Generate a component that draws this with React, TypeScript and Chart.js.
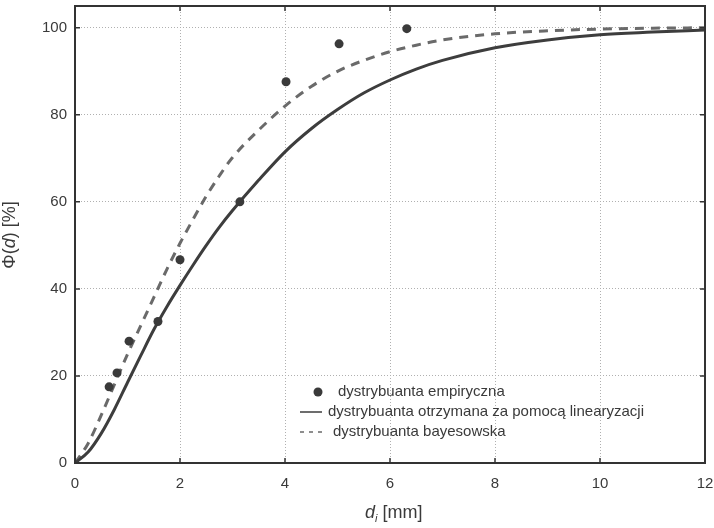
import React, { useEffect, useRef } from "react";
import { Chart, registerables } from "chart.js";

Chart.register(...registerables);

// ---- data ----
const xTickValues = [0, 2, 4, 6, 8, 10, 12];
const yTickValues = [0, 20, 40, 60, 80, 100];

const empiricalX = [0.65, 0.8, 1.03, 1.58, 2.0, 3.14, 4.02, 5.03, 6.32];
const empiricalY = [17.5, 20.7, 28.0, 32.5, 46.7, 60.0, 87.6, 96.3, 99.8];

const curveX = [0, 0.25, 0.5, 0.75, 1, 1.25, 1.5, 1.75, 2, 2.25, 2.5, 2.75, 3, 3.5, 4, 4.5, 5, 5.5, 6, 6.5, 7, 8, 9, 10, 11, 12];
const linearizedY = [0, 2.5, 6.8, 12.3, 18.5, 24.6, 30.6, 35.9, 40.8, 45.5, 50, 54.2, 58, 65, 71.5, 76.8, 81.2, 85, 88, 90.5, 92.5, 95.4, 97.2, 98.4, 99, 99.5];
const bayesY = [0, 4.5, 11, 18, 25, 31.5, 38, 44.5, 50.5, 56, 61.3, 66, 70.2, 76.5, 82, 86.5, 90, 92.5, 94.5, 96, 97.2, 98.6, 99.3, 99.7, 99.9, 100];

const legendLabels = [
  "dystrybuanta empiryczna",
  "dystrybuanta otrzymana za pomocą linearyzacji",
  "dystrybuanta bayesowska",
];

const FONT = "'Liberation Sans', Arial, Helvetica, sans-serif";
const TEXT = "#3a3a3a";

const decorPlugin = {
  id: "decor",
  afterDraw(chart: any) {
    const { ctx, chartArea: a, scales } = chart;
    const xs = scales.x;
    const ys = scales.y;
    ctx.save();
    // frame
    ctx.strokeStyle = "#333";
    ctx.lineWidth = 2;
    ctx.setLineDash([]);
    ctx.strokeRect(a.left, a.top, a.right - a.left, a.bottom - a.top);
    // inward ticks
    ctx.lineWidth = 1.5;
    ctx.beginPath();
    xTickValues.forEach((v) => {
      const px = xs.getPixelForValue(v);
      ctx.moveTo(px, a.bottom);
      ctx.lineTo(px, a.bottom - 5);
      ctx.moveTo(px, a.top);
      ctx.lineTo(px, a.top + 5);
    });
    yTickValues.forEach((v) => {
      const py = ys.getPixelForValue(v);
      ctx.moveTo(a.left, py);
      ctx.lineTo(a.left + 5, py);
      ctx.moveTo(a.right, py);
      ctx.lineTo(a.right - 5, py);
    });
    ctx.stroke();

    // legend
    ctx.fillStyle = TEXT;
    ctx.textBaseline = "middle";
    ctx.textAlign = "left";
    ctx.font = `15px ${FONT}`;
    const rows = [392, 412, 432];
    ctx.beginPath();
    ctx.arc(318, rows[0], 4.5, 0, Math.PI * 2);
    ctx.fillStyle = "#3a3a3a";
    ctx.fill();
    ctx.fillStyle = TEXT;
    ctx.fillText(legendLabels[0], 338, rows[0]);
    ctx.strokeStyle = "#3d3d3d";
    ctx.lineWidth = 1.5;
    ctx.beginPath();
    ctx.moveTo(300, rows[1]);
    ctx.lineTo(322, rows[1]);
    ctx.stroke();
    ctx.fillText(legendLabels[1], 328, rows[1]);
    ctx.setLineDash([4, 5]);
    ctx.strokeStyle = "#6a6a6a";
    ctx.beginPath();
    ctx.moveTo(300, rows[2]);
    ctx.lineTo(323, rows[2]);
    ctx.stroke();
    ctx.setLineDash([]);
    ctx.fillText(legendLabels[2], 333, rows[2]);

    // x axis title: d_i [mm]
    ctx.textBaseline = "alphabetic";
    const baseY = 518;
    let cx = 365;
    ctx.font = `italic 18px ${FONT}`;
    ctx.fillText("d", cx, baseY);
    cx += ctx.measureText("d").width;
    ctx.font = `italic 11px ${FONT}`;
    ctx.fillText("i", cx, baseY + 4);
    cx += ctx.measureText("i").width;
    ctx.font = `18px ${FONT}`;
    ctx.fillText(" [mm]", cx, baseY);

    // y axis title: Φ(d) [%]
    ctx.save();
    ctx.translate(12, 235);
    ctx.rotate(-Math.PI / 2);
    const parts: [string, boolean][] = [["Φ(", false], ["d", true], [") [%]", false]];
    let total = 0;
    parts.forEach(([t, it]) => {
      ctx.font = `${it ? "italic " : ""}18px ${FONT}`;
      total += ctx.measureText(t).width;
    });
    let px = -total / 2;
    parts.forEach(([t, it]) => {
      ctx.font = `${it ? "italic " : ""}18px ${FONT}`;
      ctx.fillText(t, px, 3);
      px += ctx.measureText(t).width;
    });
    ctx.restore();
    ctx.restore();
  },
};

export default function App() {
  const ref = useRef<HTMLCanvasElement | null>(null);
  useEffect(() => {
    if (!ref.current) return;
    const chart = new Chart(ref.current, {
      type: "scatter",
      data: {
        datasets: [
          {
            label: legendLabels[0],
            data: empiricalX.map((x, i) => ({ x, y: empiricalY[i] })),
            backgroundColor: "#3a3a3a",
            borderWidth: 0,
            pointRadius: 4.5,
            showLine: false,
          },
          {
            label: legendLabels[1],
            data: curveX.map((x, i) => ({ x, y: linearizedY[i] })),
            showLine: true,
            borderColor: "#3d3d3d",
            borderWidth: 3,
            pointRadius: 0,
            cubicInterpolationMode: "monotone",
          },
          {
            label: legendLabels[2],
            data: curveX.map((x, i) => ({ x, y: bayesY[i] })),
            showLine: true,
            borderColor: "#6a6a6a",
            borderWidth: 3,
            borderDash: [9, 7],
            pointRadius: 0,
            cubicInterpolationMode: "monotone",
          },
        ],
      },
      options: {
        animation: false,
        responsive: false,
        layout: { padding: { left: 0, right: 9, top: 6, bottom: 0 } },
        plugins: { legend: { display: false }, tooltip: { enabled: false } },
        scales: {
          x: {
            type: "linear",
            min: 0,
            max: 12,
            afterBuildTicks: (s: any) => {
              s.ticks = xTickValues.map((v) => ({ value: v }));
            },
            afterFit: (s: any) => {
              s.height = 65;
              s.paddingLeft = 0;
              s.paddingRight = 0;
            },
            grid: { color: "#b0b0b0", lineWidth: 1, drawTicks: false },
            border: { display: false, dash: [1, 2] },
            ticks: { color: TEXT, font: { size: 15, family: FONT }, padding: 12, maxRotation: 0, autoSkip: false },
          },
          y: {
            type: "linear",
            min: 0,
            max: 105,
            afterBuildTicks: (s: any) => {
              s.ticks = yTickValues.map((v) => ({ value: v }));
            },
            afterFit: (s: any) => {
              s.width = 75;
              s.paddingTop = 0;
              s.paddingBottom = 0;
            },
            grid: { color: "#b0b0b0", lineWidth: 1, drawTicks: false },
            border: { display: false, dash: [1, 2] },
            ticks: { color: TEXT, font: { size: 15, family: FONT }, padding: 8, autoSkip: false },
          },
        },
      },
      plugins: [decorPlugin],
    });
    return () => chart.destroy();
  }, []);
  return (
    <div style={{ position: "fixed", left: 0, top: 0, width: 714, height: 528, background: "#fff" }}>
      <canvas ref={ref} width={714} height={528} style={{ display: "block" }} />
    </div>
  );
}
